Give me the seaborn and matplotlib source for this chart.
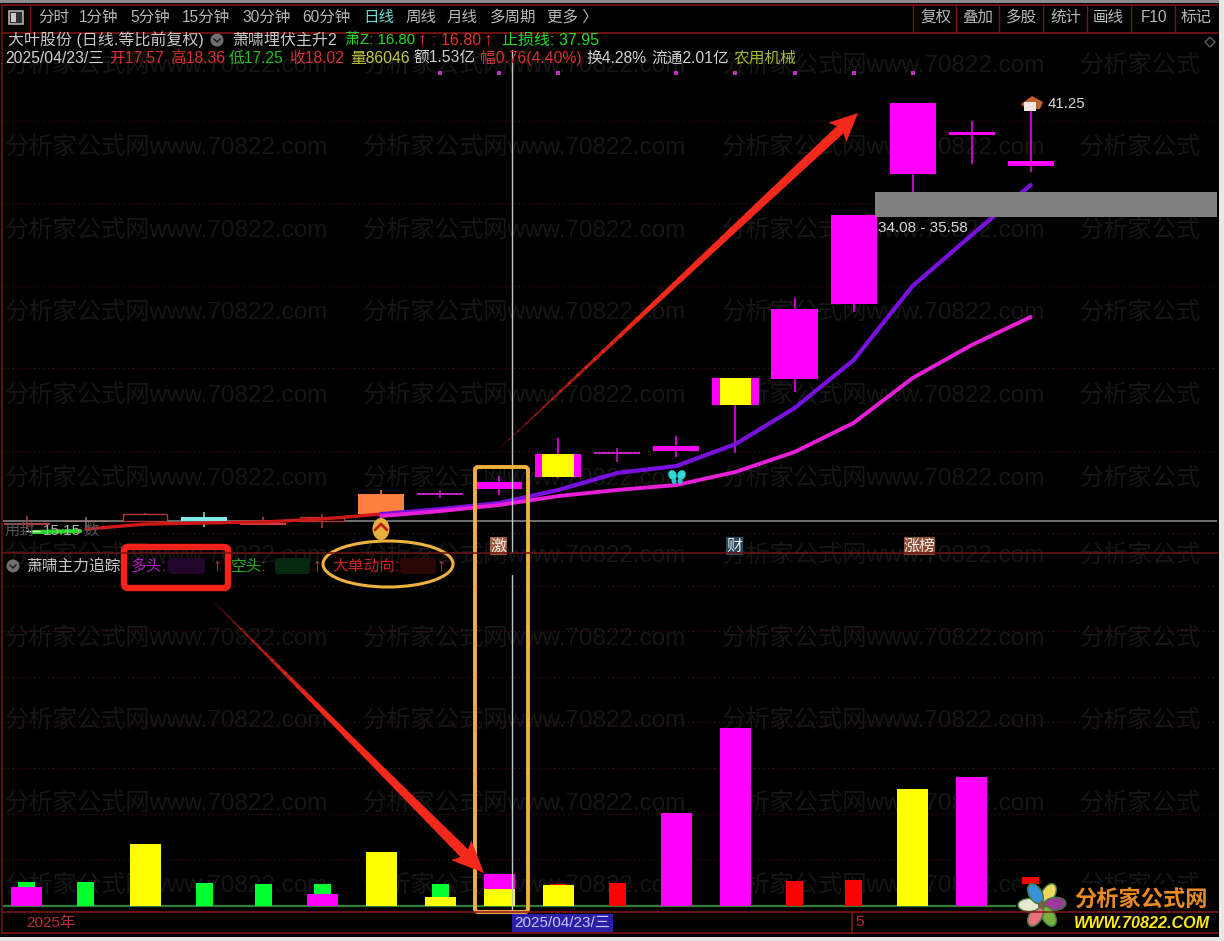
import numpy as np
import pandas as pd
import matplotlib
matplotlib.use("Agg")
import matplotlib.pyplot as plt
from matplotlib.patches import Rectangle, Polygon, Ellipse, Circle, FancyBboxPatch
import seaborn as sns

# candles (price units)
days = list(range(18))
open_px = [15.40, 15.59, 15.65, 15.65, 15.53, 15.65, 16.07, 17.22, 17.57, 18.31, 19.71, 19.89, 22.68, 24.25, 28.80, 36.67, 39.04, 37.16]
close_px = [15.53, 15.65, 16.07, 15.89, 15.40, 15.89, 17.28, 17.34, 18.02, 19.71, 19.83, 20.19, 24.31, 28.49, 34.19, 40.98, 39.22, 37.46]
high_px = [15.95, 15.89, 16.16, 16.19, 15.89, 16.07, 17.53, 17.53, 18.36, 20.68, 20.07, 20.80, 24.31, 29.16, 34.19, 40.98, 39.89, 41.25]
low_px = [15.15, 15.15, 15.65, 15.28, 15.40, 15.22, 15.59, 17.04, 17.25, 18.25, 19.22, 19.52, 19.77, 23.46, 28.31, 35.58, 37.28, 36.80]
candle_colors = ["#b04040", "#a07878", "#b03838", "#7fe8e8", "#d04040", "#b03838", "#ff7f3f", "#c020c0",
                 "#ff00ff", "#ff00ff", "#c020c0", "#ff00ff", "#ff00ff", "#ff00ff", "#ff00ff", "#ff00ff",
                 "#ff00ff", "#ff00ff"]
hollow_days = [2, 5]
yellow_core_days = [9, 12]
signal_days = [7, 8, 9, 11, 12, 13, 14, 15]

# moving lines
purple_days = [6, 7, 8, 9, 10, 11, 12, 13, 14, 15, 16, 17]
purple_line = [16.07, 16.37, 16.74, 17.53, 18.56, 18.98, 20.31, 22.49, 25.40, 29.89, 32.98, 36.01]
pink_line = [15.95, 16.25, 16.62, 17.16, 17.53, 17.83, 18.62, 19.83, 21.59, 24.31, 26.31, 28.01]
red_days = [1, 2, 3, 4, 5, 6]
red_line = [15.16, 15.46, 15.53, 15.59, 15.77, 16.07]
green_days = [0.1, 0.9]
green_line = [14.98, 15.04]
zone_low, zone_high = 34.08, 35.58
cross_day = 8.21

# lower panel bars
green_narrow = [24, 24, 0, 23, 22, 22, 0, 22, 0, 0, 0, 0, 0, 0, 0, 0, 0, 0]
red_narrow = [0, 0, 0, 0, 0, 0, 0, 0, 0, 22, 23, 0, 0, 25, 26, 0, 0, 29]
magenta_wide = [19, 0, 0, 0, 0, 12, 0, 0, 32, 0, 0, 93, 178, 0, 0, 0, 129, 0]
yellow_wide = [0, 0, 62, 0, 0, 0, 54, 9, 17, 21, 0, 0, 0, 0, 0, 117, 0, 0]

toolbar_left = [("分时", 38), ("1分钟", 79), ("5分钟", 130), ("15分钟", 182), ("30分钟", 242), ("60分钟", 302),
                ("日线", 363), ("周线", 405), ("月线", 447), ("多周期", 490), ("更多 〉", 547)]
toolbar_right = [("复权", 920), ("叠加", 962), ("多股", 1006), ("统计", 1050), ("画线", 1093), ("F10", 1141), ("标记", 1181)]
toolbar_seps = [913, 956, 999, 1043, 1087, 1131, 1175]
title_row = [("大叶股份 (日线.等比前复权)", 8, "#c8c8c8", 11.5), ("萧啸埋伏主升2", 232, "#c8c8c8", 11.5), ("萧Z: 16.80", 345, "#22dd22", 10.8),
             (": 16.80", 432, "#e03030", 11.5), ("止损线: 37.95", 502, "#22dd22", 11.5)]
title_arrows = [422, 488]
quote_row = [("2025/04/23/三", 5, "#d0d0d0"), ("开17.57", 109, "#d83030"), ("高18.36", 170, "#d83030"),
             ("低17.25", 229, "#20c020"), ("收18.02", 289, "#d83030"), ("量86046", 350, "#c8c840"),
             ("额1.53亿", 413, "#d0d0d0"), ("幅0.76(4.40%)", 480, "#d83030"), ("换4.28%", 586, "#d0d0d0"),
             ("流通2.01亿", 651, "#d0d0d0"), ("农用机械", 734, "#a8b830")]
lower_row = [("萧啸主力追踪", 26, "#c8c8c8"), ("多头:", 131, "#b020c0"), ("空头:", 231, "#20b020"), ("大单动向:", 332, "#d02020")]
lower_arrows = [217, 317, 441]

sns.set_theme(style="dark")
plt.rcParams["font.family"] = ["Liberation Sans", "Noto Sans CJK SC", "DejaVu Sans"]

W, H = 1224, 941
fig = plt.figure(figsize=(W / 100, H / 100), dpi=100, facecolor="black")


def pixel_axes(left, top, right, bottom, zorder):
    ax = fig.add_axes([left / W, 1 - bottom / H, (right - left) / W, (bottom - top) / H], zorder=zorder)
    ax.set_facecolor("none")
    return ax


under = pixel_axes(0, 0, W, H, -1)
top_ax = pixel_axes(3, 33, 1217, 553, 1)
low_ax = pixel_axes(3, 553, 1217, 912, 1)
ov = pixel_axes(0, 0, W, H, 5)
for a in (under, ov):
    a.set_xlim(0, W)
    a.set_ylim(H, 0)
    a.set_axis_off()

# faint watermark
for wy in [65, 147, 230, 312, 395, 478, 555, 638, 720, 803, 885]:
    for wx, mark in [(5, "分析家公式网www.70822.com"), (363, "分析家公式网www.70822.com"),
                     (722, "分析家公式网www.70822.com"), (1080, "分析家公式")]:
        under.text(wx, wy, mark, color="#161616", fontsize=17.5, va="center")

x_range = (-0.405, 20.155)
grid_color = "#4a1818"

# price panel
top_ax.set_xlim(*x_range)
top_ax.set_ylim(13.71, 45.22)
for level in [39.9, 34.9, 29.9, 24.95, 19.9, 14.9]:
    top_ax.axhline(level, color=grid_color, lw=0.8, ls=(0, (1, 3)), zorder=1)
top_ax.axhline(15.65, color="#8c8c8c", lw=1.1, zorder=2)

for i in days:
    lo, hi = sorted([open_px[i], close_px[i]])
    top_ax.vlines(i, low_px[i], high_px[i], color=candle_colors[i], lw=1.1, zorder=3)
    if i in hollow_days:
        top_ax.bar(i, hi - lo, bottom=lo, width=0.74, facecolor="black", edgecolor=candle_colors[i], lw=1, zorder=3)
    else:
        top_ax.bar(i, hi - lo, bottom=lo, width=0.78, color=candle_colors[i], lw=0, zorder=3)
    if i in yellow_core_days:
        top_ax.bar(i, hi - lo, bottom=lo, width=0.54, color="#ffff00", lw=0, zorder=4)

sns.lineplot(x=red_days, y=red_line, color="#d01818", linewidth=2.4, errorbar=None, ax=top_ax, zorder=5)
sns.lineplot(x=green_days, y=green_line, color="#22dd22", linewidth=3, errorbar=None, ax=top_ax, zorder=5)
sns.lineplot(x=purple_days, y=purple_line, color="#7a10e0", linewidth=3, errorbar=None, ax=top_ax, zorder=6)
sns.lineplot(x=purple_days, y=pink_line, color="#e81ed8", linewidth=2.8, errorbar=None, ax=top_ax, zorder=6)
top_ax.fill_between([14.36, x_range[1]], zone_low, zone_high, color="#808080", lw=0, zorder=7)
top_ax.scatter(signal_days, [42.8] * len(signal_days), marker="s", s=7, color="#c030c0", lw=0, zorder=3)
top_ax.axvline(cross_day, ymax=0.967, color="#c4c4c4", lw=1, zorder=8)
top_ax.set_xlim(*x_range)
top_ax.set_axis_off()

# lower panel
low_ax.set_xlim(*x_range)
low_ax.set_ylim(-6, 353)
for level in [47, 92.5, 138, 184, 229, 275, 320]:
    low_ax.axhline(level, color=grid_color, lw=0.8, ls=(0, (1, 3)), zorder=0)
low_ax.axhline(0, color="#2f7f2f", lw=1.6, zorder=1)
bars = pd.DataFrame({"day": days, "green": green_narrow, "red": red_narrow, "magenta": magenta_wide, "yellow": yellow_wide})
for col, colr, wid in [("green", "#00ff30", 0.288), ("red", "#ff0000", 0.288), ("magenta", "#ff00ff", 0.525), ("yellow", "#ffff00", 0.525)]:
    sns.barplot(data=bars, x="day", y=col, color=colr, width=wid, native_scale=True, saturation=1,
                errorbar=None, linewidth=0, ax=low_ax, zorder=3)
low_ax.axvline(cross_day, ymax=0.94, color="#c4c4c4", lw=1, zorder=4)
low_ax.set_xlim(*x_range)
low_ax.set_ylim(-6, 353)
low_ax.set_axis_off()

# frame, toolbar
frame_red = "#7a1414"
for y in [5, 33, 553, 912, 933]:
    ov.plot([2, 1218], [y, y], color="#8a1616" if y != 553 else "#701414", lw=1.1)
ov.plot([2, 2], [5, 933], color=frame_red, lw=1.1)
ov.plot([30, 30], [5, 33], color=frame_red, lw=1)
for sx in toolbar_seps:
    ov.plot([sx, sx], [5, 33], color=frame_red, lw=1)
ov.add_patch(Rectangle((0, 0), W, 2.5, color="#8c8c8c", lw=0))
ov.add_patch(Rectangle((1219, 0), 5, H, color="#e8e8e8", lw=0))
ov.add_patch(Rectangle((0, 937), W, 4, color="#e4e4e4", lw=0))
ov.add_patch(Rectangle((9, 11), 14, 13, facecolor="#303030", edgecolor="#b0b0b0", lw=1.2))
ov.add_patch(Rectangle((11, 13), 5, 9, color="#c8c8c8", lw=0))
for txt, tx in toolbar_left:
    col = "#70d8d8" if txt == "日线" else "#b8b8b8"
    ov.text(tx, 17, txt, color=col, fontsize=11.2, va="center")
for txt, tx in toolbar_right:
    ov.text(tx, 17, txt, color="#b8b8b8", fontsize=11.2, va="center")
ov.add_patch(Polygon([(1205, 42), (1210, 37), (1215, 42), (1210, 47)], closed=True, fill=False, edgecolor="#606060", lw=1))

# header rows
ov.add_patch(Circle((217, 40), 6.5, color="#707070", lw=0))
ov.plot([214, 217, 220], [39, 42, 39], color="#222222", lw=1.2)
for txt, tx, col, size in title_row:
    ov.text(tx, 40, txt, color=col, fontsize=size, va="center")
for tx in title_arrows:
    ov.text(tx, 40, "↑", color="#ee3030", fontsize=13, ha="center", va="center")
for txt, tx, col in quote_row:
    ov.text(tx, 58, txt, color=col, fontsize=11.3, va="center")

# zone / price labels
ov.text(878, 228, "34.08 - 35.58", color="#d8d8d8", fontsize=11, va="center")
ov.text(1048, 104, "41.25", color="#d8d8d8", fontsize=10.8, va="center")
ov.add_patch(Polygon([(1021, 104), (1032, 96), (1043, 102), (1040, 109), (1026, 109)], color="#c0622c", lw=0))
ov.add_patch(Rectangle((1024, 102), 12, 9, color="#f0e8e0", lw=0))

# low label at left
ov.text(5, 531, "用封", color="#555555", fontsize=11, va="center")
ov.text(43, 531, "15.15", color="#b0b0b0", fontsize=11, va="center")
ov.text(83, 531, "数", color="#555555", fontsize=11, va="center")
ov.plot([25, 40], [531, 531], color="#e8e8e8", lw=1)

# little icons on the price panel
ov.add_patch(Ellipse((381, 529), 17, 22, color="#e8b040", lw=0))
ov.plot([375, 381, 387], [530, 524, 530], color="#c02010", lw=2)
for dx in (-1, 1):
    ov.add_patch(Ellipse((677 + dx * 4.5, 475), 8, 10, color="#30d8d8", lw=0, angle=dx * 25))
    ov.add_patch(Ellipse((677 + dx * 3, 481), 5, 6, color="#30c0c8", lw=0))
for txt, cx, w, col in [("激", 498, 17, "#a05a40"), ("财", 734, 17, "#204860"), ("涨榜", 919, 31, "#8a4a34")]:
    ov.add_patch(Rectangle((cx - w / 2, 537), w, 18, color=col, lw=0))
    ov.text(cx, 546, txt, color="#f0e8e0", fontsize=11.5, ha="center", va="center")

# lower panel header
ov.add_patch(Circle((13, 566), 6.5, color="#707070", lw=0))
ov.plot([10, 13, 16], [565, 568, 565], color="#222222", lw=1.2)
for txt, tx, col in lower_row:
    ov.text(tx, 566, txt, color=col, fontsize=11.3, va="center")
for tx in lower_arrows:
    ov.text(tx, 566, "↑", color="#e03030", fontsize=13, ha="center", va="center")
for sx, sw, col in [(168, 37, "#22062c"), (275, 35, "#06280e"), (400, 36, "#2a0606")]:
    ov.add_patch(FancyBboxPatch((sx + 3, 561), sw - 6, 10, boxstyle="round,pad=3", color=col, lw=0))

# hand drawn marks
ov.add_patch(FancyBboxPatch((124, 547), 104, 41, boxstyle="round,pad=0,rounding_size=4", fill=False, edgecolor="#f5221a", lw=4.6))
ov.add_patch(Ellipse((388, 564), 130, 46, fill=False, edgecolor="#eeb040", lw=2.2))
ov.add_patch(FancyBboxPatch((475, 467), 53, 445, boxstyle="round,pad=0,rounding_size=3", fill=False, edgecolor="#f0b040", lw=2.8))


def taper_arrow(x0, y0, x1, y1, neck, head_w, head_l):
    start = np.array([x0, y0], float)
    v = np.array([x1 - x0, y1 - y0], float)
    length = np.hypot(*v)
    u = v / length
    n = np.array([-u[1], u[0]])
    shaft = length - head_l * 0.8
    steps = 40
    for k in range(steps):
        t0, t1 = k / steps, (k + 1) / steps
        w0, w1 = neck * t0 / 2 + 0.4, neck * t1 / 2 + 0.4
        a = start + u * shaft * t0
        b = start + u * shaft * (t1 + 0.005)
        ov.add_patch(Polygon([a + n * w0, b + n * w1, b - n * w1, a - n * w0], color="#f5281c", lw=0, alpha=min(1, 0.3 + 1.6 * t1)))
    tip = start + v
    back = tip - u * head_l
    neck_pt = tip - u * head_l * 0.8
    ov.add_patch(Polygon([tip, back + n * head_w / 2, neck_pt, back - n * head_w / 2], color="#f5281c", lw=0))


taper_arrow(500, 448, 858, 113, 9, 26, 28)
taper_arrow(215, 603, 484, 873, 10, 28, 32)

# date strip
ov.text(26, 923, "2025年", color="#b83030", fontsize=11, va="center")
ov.plot([852, 852], [912, 933], color="#8a1616", lw=1.1)
ov.text(855, 922, "5", color="#b83030", fontsize=11, va="center")
ov.add_patch(Rectangle((512, 914), 101, 18, color="#2a20a8", lw=0))
ov.text(514, 923, "2025/04/23/三", color="#c8c8f0", fontsize=11, va="center")

# logo
ov.add_patch(Rectangle((1016, 884), 1219 - 1016, 53, color="black", lw=0))
petals = [(90, "#f0d860"), (35, "#9a3a9a"), (-30, "#78b040"), (-90, "#e8707a"), (-150, "#e8e8d0"), (150, "#3a90d8")]
for ang, col in petals:
    rad = np.deg2rad(ang - 30)
    cx, cy = 1042 + 13 * np.cos(rad), 905 - 13 * np.sin(rad)
    ov.add_patch(Ellipse((cx, cy), 22, 13, angle=-(ang - 30), facecolor=col, edgecolor="#3a7a3a", lw=1))
ov.add_patch(Circle((1042, 905), 4, color="#706040", lw=0))
ov.text(1074, 900, "分析家公式网", color="#e88a20", fontsize=16, fontweight="bold", fontstyle="italic", va="center")
ov.text(1074, 924, "WWW.70822.COM", color="#ffe818", fontsize=11.6, fontweight="bold", fontstyle="italic", va="center")

fig.savefig("out.png", dpi=100, facecolor="black")
